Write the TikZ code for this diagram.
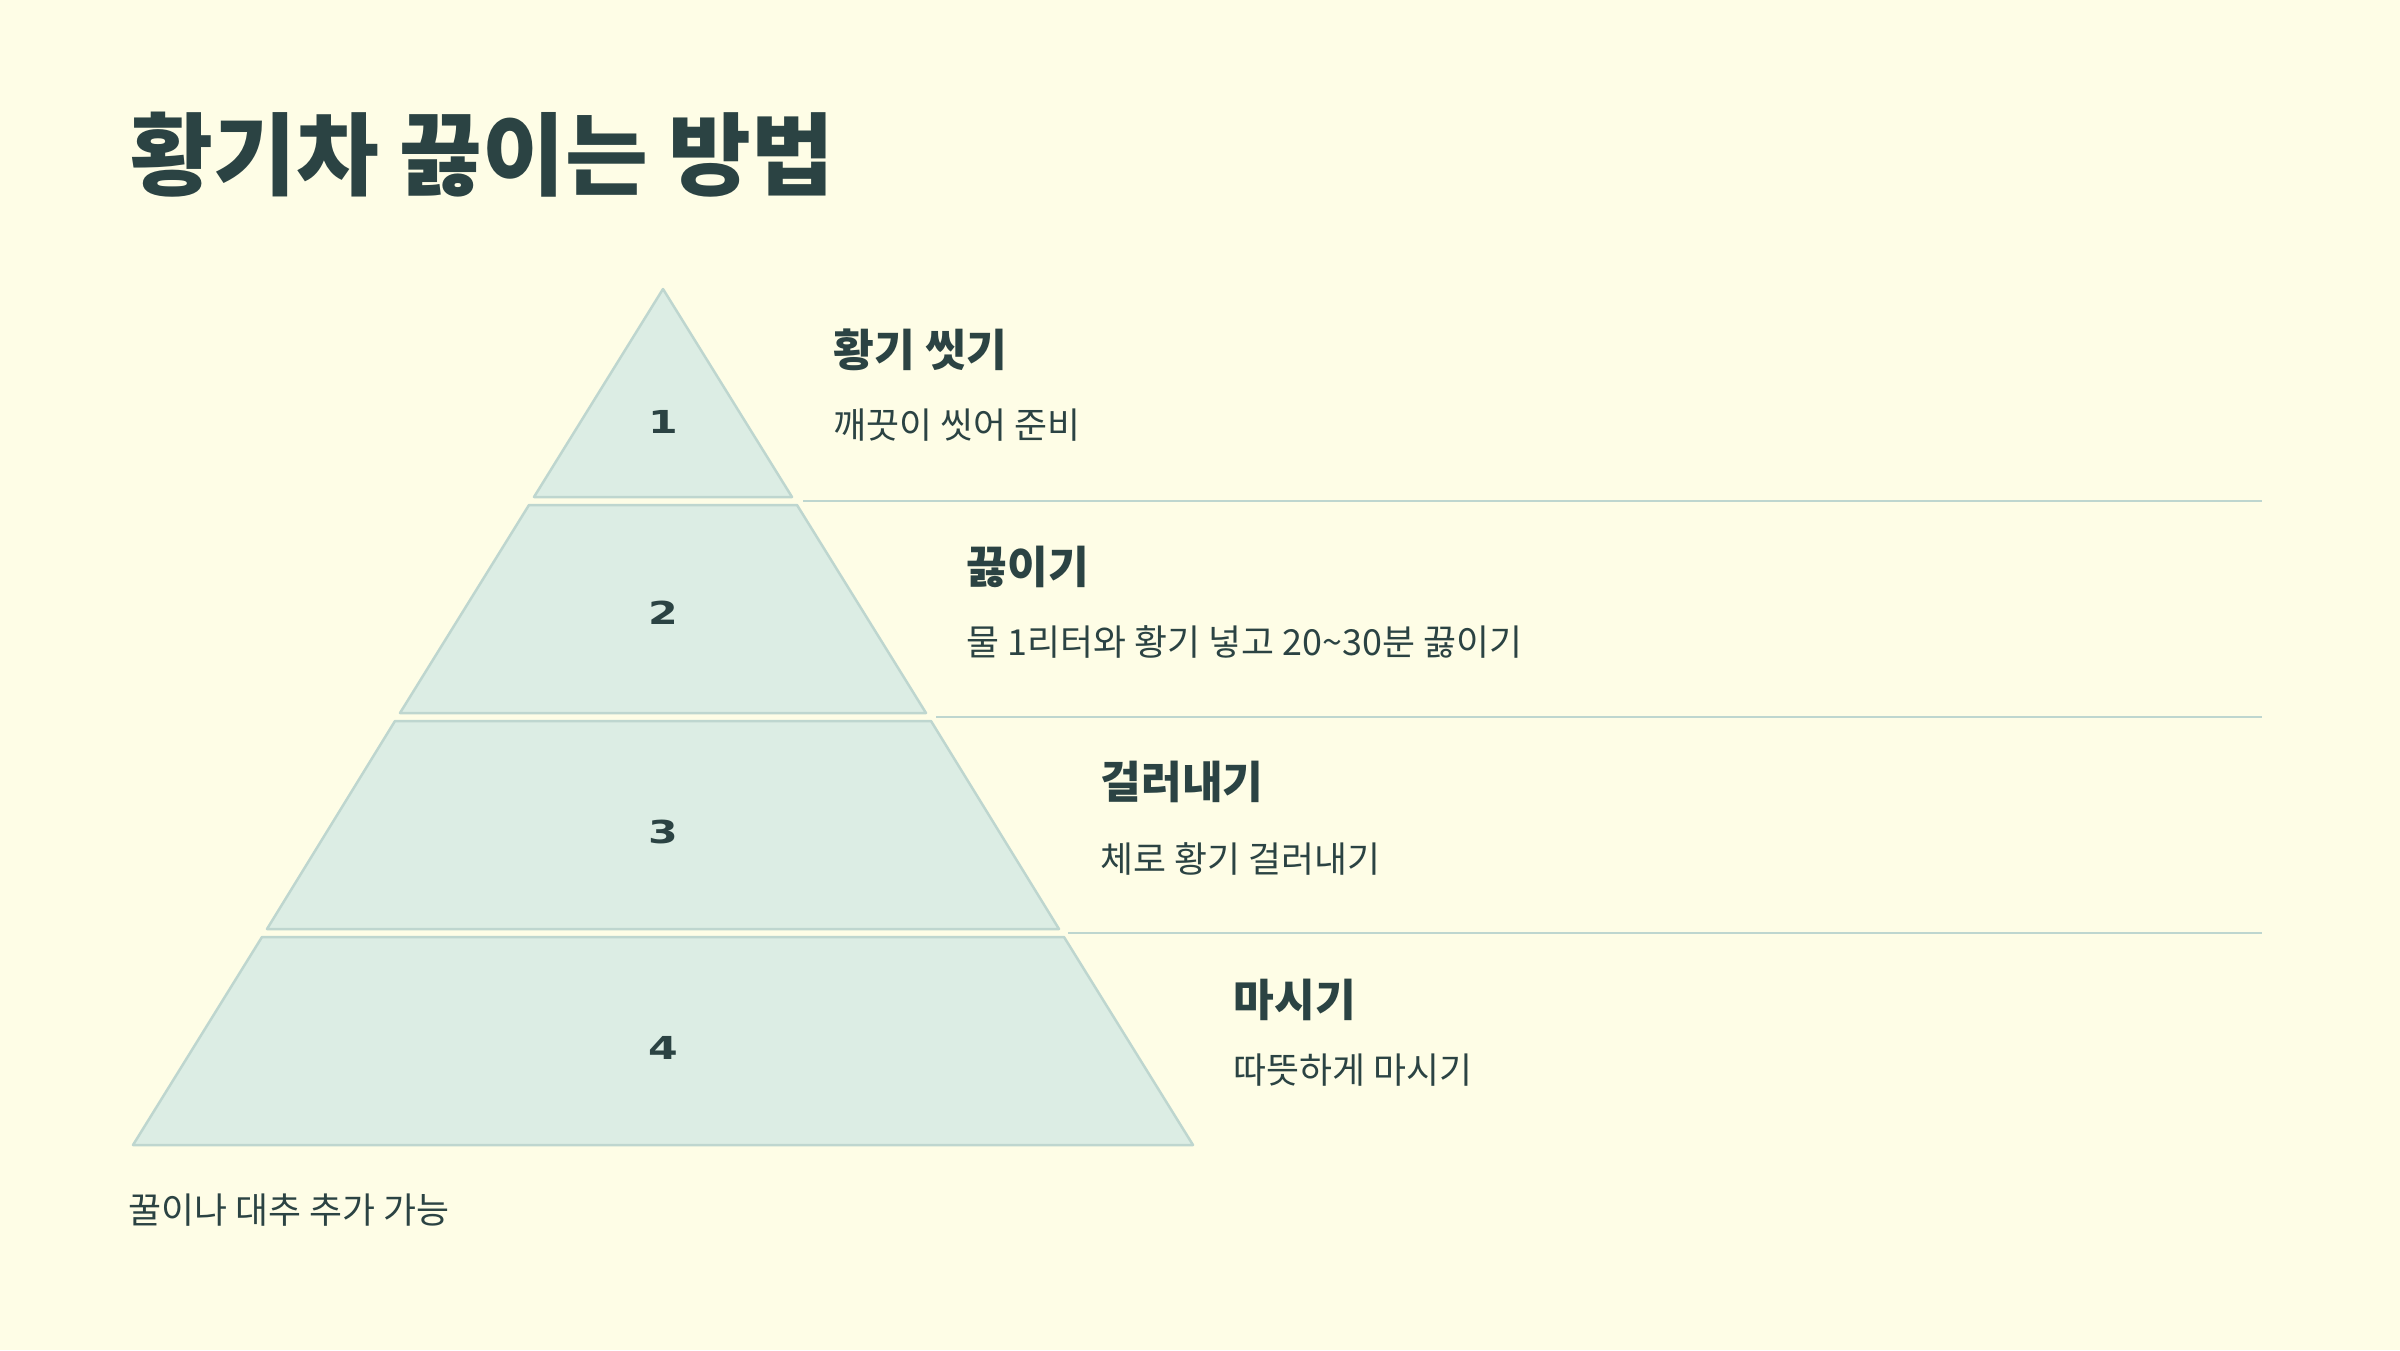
\documentclass[tikz,border=0pt]{standalone}
\usepackage{fontspec}
\setmainfont{Noto Sans CJK KR}
\newfontfamily\numfont{DejaVu Sans}[FakeStretch=1.35]
\usepackage{xcolor}
\usetikzlibrary{positioning}
\definecolor{cream}{HTML}{FEFDE6}
\definecolor{mint}{HTML}{DCEDE4}
\definecolor{edge}{HTML}{BED6CF}
\definecolor{ink}{HTML}{2B4343}

\tikzset{
	layer/.style={draw=edge,fill=mint,line width=0.25mm,line join=round},
	rule/.style={draw=edge,line width=0.25mm},
	num/.style={inner sep=0,text=ink,font=\numfont\bfseries\fontsize{9}{10}\selectfont},
	head/.style={anchor=west,inner sep=0,text=ink,font=\bfseries\fontsize{12.6}{15}\selectfont},
	desc/.style={anchor=west,inner sep=0,text=ink,font=\fontsize{10.2}{12}\selectfont}
}

\begin{document}
\begin{tikzpicture}[x=0.1mm,y=-0.1mm]
	\fill[cream] (0,0) rectangle (2400,1350);
	\node[anchor=west,inner sep=0,text=ink,font=\bfseries\fontsize{25.6}{30}\selectfont] (title) at (130,155) {황기차 끓이는 방법};

	% pyramid, top to bottom
	\draw[layer] (663,289) -- (792,497) -- (534,497) -- cycle;
	\draw[layer] (529,505) -- (797,505) -- (926,713) -- (400,713) -- cycle;
	\draw[layer] (395,721) -- (931,721) -- (1059,929) -- (267,929) -- cycle;
	\draw[layer] (262,937) -- (1064,937) -- (1193,1145) -- (133,1145) -- cycle;
	\node[num] (n1) at (663,422) {1};
	\node[num] (n2) at (663,613) {2};
	\node[num] (n3) at (663,832) {3};
	\node[num] (n4) at (663,1048) {4};

	% separators
	\coordinate (s1) at (803,501);
	\coordinate (s2) at (936,717);
	\coordinate (s3) at (1068,933);
	\draw[rule] (s1) -- (2262,501);
	\draw[rule] (s2) -- (2262,717);
	\draw[rule] (s3) -- (2262,933);

	\node[head] (h1) at (833,350) {황기 씻기};
	\node[desc] (d1) at (833,425) {깨끗이 씻어 준비};
	\node[head] (h2) at (966,567) {끓이기};
	\node[desc] (d2) at (966,642) {물 1리터와 황기 넣고 20\textasciitilde30분 끓이기};
	\node[head] (h3) at (1100,782) {걸러내기};
	\node[desc] (d3) at (1100,859) {체로 황기 걸러내기};
	\node[head] (h4) at (1233,1000) {마시기};
	\node[desc] (d4) at (1233,1070) {따뜻하게 마시기};

	\node[desc] (note) at (128,1210) {꿀이나 대추 추가 가능};
\end{tikzpicture}
\end{document}
